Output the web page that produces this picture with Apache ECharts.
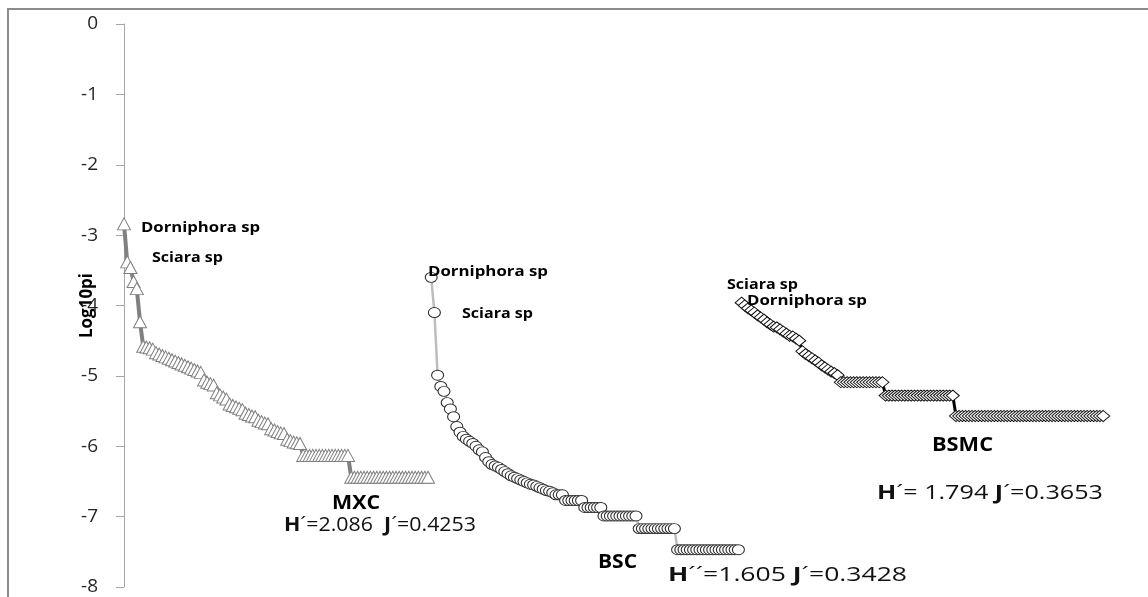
<!DOCTYPE html>
<html>
<head>
<meta charset="utf-8">
<script src="https://cdn.jsdelivr.net/npm/echarts@6/dist/echarts.min.js"></script>
<style>
  html, body { margin: 0; padding: 0; background: #fff; }
  #chart { width: 1148px; height: 597px; }
</style>
</head>
<body>
<div id="chart"></div>
<script>
// ---- data (rank position along the hidden x axis, Log10 pi values) ----
const yTicks = [0, -1, -2, -3, -4, -5, -6, -7, -8];

const mxcStart = 0;
const mxcValues = [
  -2.84, -3.38, -3.46, -3.66, -3.76, -4.23, -4.58, -4.59, -4.60, -4.62,
  -4.67, -4.69, -4.71, -4.73, -4.75, -4.77, -4.79, -4.81, -4.83, -4.85,
  -4.87, -4.89, -4.91, -4.93, -4.95, -5.06, -5.09, -5.11, -5.13, -5.24,
  -5.27, -5.30, -5.33, -5.40, -5.42, -5.44, -5.46, -5.48, -5.53, -5.55,
  -5.57, -5.58, -5.63, -5.65, -5.67, -5.68, -5.75, -5.77, -5.79, -5.81,
  -5.82, -5.90, -5.92, -5.94, -5.95, -5.96,
  -6.13, -6.13, -6.13, -6.13, -6.13, -6.13, -6.13, -6.13, -6.13, -6.13,
  -6.13, -6.13, -6.13, -6.13, -6.13,
  -6.44, -6.44, -6.44, -6.44, -6.44, -6.44, -6.44, -6.44, -6.44, -6.44,
  -6.44, -6.44, -6.44, -6.44, -6.44, -6.44, -6.44, -6.44, -6.44, -6.44,
  -6.44, -6.44, -6.44, -6.44, -6.44
];

const bscStart = 96;
const bscValues = [
  -3.60, -4.10, -4.99, -5.15, -5.22, -5.38, -5.47, -5.58, -5.72, -5.80,
  -5.86, -5.90, -5.93, -5.96, -6.00, -6.05, -6.08, -6.16, -6.22, -6.26,
  -6.28, -6.30, -6.33, -6.36, -6.39, -6.42, -6.44, -6.46, -6.48, -6.50,
  -6.52, -6.54, -6.55, -6.57, -6.59, -6.61, -6.63, -6.64, -6.66,
  -6.69, -6.69, -6.69,
  -6.77, -6.77, -6.77, -6.77, -6.77, -6.77,
  -6.87, -6.87, -6.87, -6.87, -6.87, -6.87,
  -6.99, -6.99, -6.99, -6.99, -6.99, -6.99, -6.99, -6.99, -6.99, -6.99, -6.99,
  -7.17, -7.17, -7.17, -7.17, -7.17, -7.17, -7.17, -7.17, -7.17, -7.17, -7.17, -7.17,
  -7.47, -7.47, -7.47, -7.47, -7.47, -7.47, -7.47, -7.47, -7.47, -7.47,
  -7.47, -7.47, -7.47, -7.47, -7.47, -7.47, -7.47, -7.47, -7.47, -7.47
];

const bsmcStart = 193;
const bsmcValues = [
  -3.96, -4.00, -4.04, -4.07, -4.10, -4.14, -4.17, -4.20, -4.24, -4.27,
  -4.30, -4.31, -4.34, -4.37, -4.40, -4.43, -4.44, -4.47, -4.50,
  -4.65, -4.69, -4.72, -4.75, -4.78, -4.81, -4.85, -4.88, -4.91, -4.94,
  -4.96, -4.99,
  -5.09, -5.09, -5.09, -5.09, -5.09, -5.09, -5.09, -5.09, -5.09, -5.09,
  -5.09, -5.09, -5.09, -5.09,
  -5.28, -5.28, -5.28, -5.28, -5.28, -5.28, -5.28, -5.28, -5.28, -5.28,
  -5.28, -5.28, -5.28, -5.28, -5.28, -5.28, -5.28, -5.28, -5.28, -5.28,
  -5.28, -5.28,
  -5.57, -5.57, -5.57, -5.57, -5.57, -5.57, -5.57, -5.57, -5.57, -5.57,
  -5.57, -5.57, -5.57, -5.57, -5.57, -5.57, -5.57, -5.57, -5.57, -5.57,
  -5.57, -5.57, -5.57, -5.57, -5.57, -5.57, -5.57, -5.57, -5.57, -5.57,
  -5.57, -5.57, -5.57, -5.57, -5.57, -5.57, -5.57, -5.57, -5.57, -5.57,
  -5.57, -5.57, -5.57, -5.57, -5.57, -5.57, -5.57
];

const seriesNames = ['MXC', 'BSC', 'BSMC'];
const speciesTop = 'Dorniphora sp';
const speciesSecond = 'Sciara sp';
const stats = {
  MXC:  [['b', 'H'], ['r', '´=2.086  '], ['b', 'J'], ['r', '´=0.4253']],
  BSC:  [['b', 'H'], ['r', '´´=1.605 '], ['b', 'J'], ['r', '´=0.3428']],
  BSMC: [['b', 'H'], ['r', '´= 1.794 '], ['b', 'J'], ['r', '´=0.3653']]
};

// ---- helpers ----
const FONT = '"Open Sans", "DejaVu Sans", sans-serif';
const cvs = document.createElement('canvas').getContext('2d');
function measure(weight, size, text) {
  cvs.font = weight + ' ' + size + 'px ' + FONT;
  return cvs.measureText(text).width;
}
function toPairs(start, vals) { return vals.map((v, k) => [start + k, v]); }

// plain text annotation fitted to a target width
function plainText(text, x, y, width, size, weight, color) {
  const w = measure(weight, size, text);
  return {
    type: 'text', x: x, y: y, scaleX: width / w, z: 100,
    style: {
      text: text, fontFamily: FONT, fontSize: size, fontWeight: weight,
      fill: color || '#000', align: 'left', verticalAlign: 'middle',
      textAlign: 'left', textVerticalAlign: 'middle'
    }
  };
}
function statText(parts, x, y, width, size) {
  let w = 0, s = '';
  parts.forEach(p => {
    w += measure(p[0] === 'b' ? 'bold' : 'normal', size, p[1]);
    s += '{' + p[0] + '|' + p[1] + '}';
  });
  return {
    type: 'text', x: x, y: y, scaleX: width / w, z: 100,
    style: {
      text: s, fill: '#111', align: 'left', verticalAlign: 'middle',
      textAlign: 'left', textVerticalAlign: 'middle',
      rich: {
        b: { fontFamily: FONT, fontSize: size, fontWeight: 'bold', fill: '#111' },
        r: { fontFamily: FONT, fontSize: size, fontWeight: 'normal', fill: '#111' }
      }
    }
  };
}

const chart = echarts.init(document.getElementById('chart'), null, { renderer: 'canvas' });

const option = {
  animation: false,
  backgroundColor: '#fff',
  textStyle: { fontFamily: FONT },
  grid: { left: 124, right: 0, top: 24, bottom: 10, containLabel: false },
  xAxis: { type: 'value', min: 0, max: 320, show: false },
  yAxis: {
    type: 'value', min: -8, max: 0, interval: 1,
    name: 'Log10pi', nameLocation: 'middle', nameGap: 28, nameMoveOverlap: false,
    nameTextStyle: { fontFamily: FONT, fontSize: 17, fontWeight: 'bold', color: '#000' },
    axisLine: { show: true, lineStyle: { color: '#a6a6a6', width: 1 } },
    axisTick: { show: true, length: 8, lineStyle: { color: '#a6a6a6' } },
    splitLine: { show: false },
    axisLabel: {
      show: true, margin: 26, hideOverlap: false,
      textStyle: { fontFamily: FONT, fontSize: 19, color: '#262626' },
      fontFamily: FONT, fontSize: 19, color: '#262626',
      formatter: v => (yTicks.indexOf(v) >= 0 ? String(v) : '')
    }
  },
  series: [
    {
      name: seriesNames[0], type: 'line', data: toPairs(mxcStart, mxcValues),
      symbol: 'triangle', symbolSize: [13, 12], showAllSymbol: true,
      lineStyle: { color: '#808080', width: 4 },
      itemStyle: { color: '#fff', borderColor: '#808080', borderWidth: 1 },
      silent: true, z: 2
    },
    {
      name: seriesNames[1], type: 'line', data: toPairs(bscStart, bscValues),
      symbol: 'circle', symbolSize: [12, 10], showAllSymbol: true,
      lineStyle: { color: '#bdbdbd', width: 2.5 },
      itemStyle: { color: '#fff', borderColor: '#2e2e2e', borderWidth: 1 },
      silent: true, z: 3
    },
    {
      name: seriesNames[2], type: 'line', data: toPairs(bsmcStart, bsmcValues),
      symbol: 'diamond', symbolSize: [13, 11], showAllSymbol: true,
      lineStyle: { color: '#000', width: 3 },
      itemStyle: { color: '#fff', borderColor: '#111', borderWidth: 1 },
      silent: true, z: 4
    }
  ],
  graphic: [
    { type: 'rect', shape: { x: 8, y: 9, width: 1170, height: 620 },
      style: { fill: 'none', stroke: '#8c8c8c', lineWidth: 2 }, z: 0, silent: true },
    plainText(speciesTop, 141, 228, 119, 14, 'bold'),
    plainText(speciesSecond, 152, 258, 71, 14, 'bold'),
    plainText(speciesTop, 428, 272, 120, 14, 'bold'),
    plainText(speciesSecond, 462, 314, 71, 14, 'bold'),
    plainText(speciesSecond, 727, 285, 71, 14, 'bold'),
    plainText(speciesTop, 747, 301, 120, 14, 'bold'),
    plainText(seriesNames[0], 332, 504, 48, 19, 'bold'),
    plainText(seriesNames[1], 598, 563, 39, 19, 'bold'),
    plainText(seriesNames[2], 932, 446, 61, 19, 'bold'),
    statText(stats.MXC, 284, 525, 192, 20),
    statText(stats.BSC, 668, 575, 239, 20),
    statText(stats.BSMC, 877, 493, 226, 20)
  ]
};
chart.setOption(option);
</script>
</body>
</html>
